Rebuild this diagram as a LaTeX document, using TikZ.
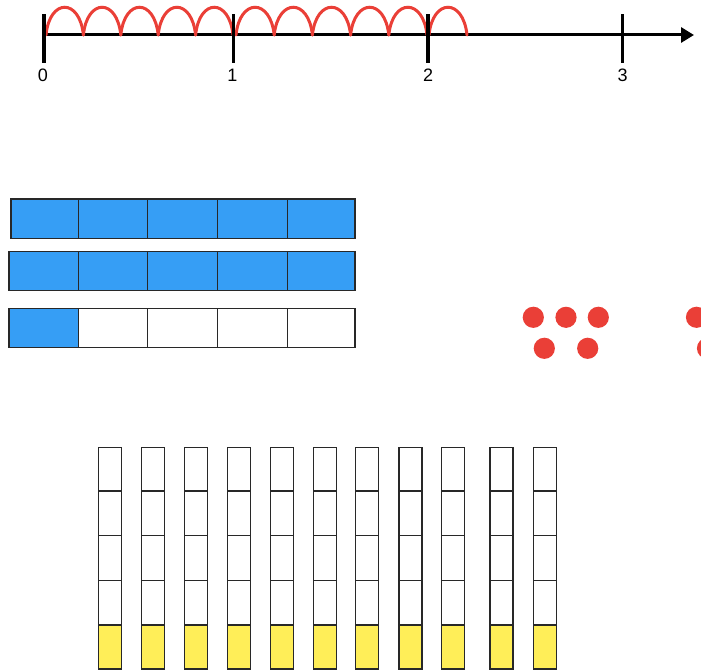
\documentclass[tikz,border=0pt]{standalone}
\usepackage{fontspec}
\setmainfont{Liberation Sans}
\usetikzlibrary{arrows.meta}
\definecolor{jred}{RGB}{234,63,55}
\definecolor{barblue}{RGB}{54,158,245}
\definecolor{cellyellow}{RGB}{255,238,88}
\definecolor{edge}{RGB}{40,40,40}
\tikzset{
  axisline/.style={line width=3pt,black},
  tickline/.style={line width=3.5pt,black},
  jump/.style={line width=3pt,jred,line cap=round},
  numlabel/.style={font=\fontsize{18}{20}\selectfont,anchor=center,inner sep=0pt},
  barcell/.style={draw=edge,line width=1.3pt},
  colcell/.style={draw=edge,line width=1.2pt},
  dot/.style={fill=jred,draw=none}
}
\begin{document}
\begin{tikzpicture}[x=1pt,y=-1pt]
\useasboundingbox (0,0) rectangle (701,671);
\clip (0,0) rectangle (701,671);
% number line
\coordinate (t0) at (44,35);
\coordinate (t1) at (233.5,35);
\coordinate (t2) at (428,35);
\coordinate (t3) at (622.5,35);
\coordinate (tip) at (694,35);
\draw[axisline,-{Triangle[length=13pt,width=15pt]}] (t0) -- (tip);
% jumps
\foreach \a/\b in {46/83.4,83.4/120.8,120.8/158.2,158.2/195.6,195.6/233,
                   236/274.2,274.2/312.4,312.4/350.6,350.6/388.8,388.8/427,
                   429/467}{
  \draw[jump] (\a,35) .. controls ({\a+0.1*(\b-\a)},-2) and ({\b-0.1*(\b-\a)},-2) .. (\b,35);
}
\foreach \t in {t0,t1,t2,t3}{
  \draw[tickline] ([yshift=-28pt]\t) -- ([yshift=21pt]\t);
}
\node[numlabel] (l0) at (43,75) {0};
\node[numlabel] (l1) at (232.5,75) {1};
\node[numlabel] (l2) at (428,75) {2};
\node[numlabel] (l3) at (622.5,75) {3};
% fraction bars
\foreach \y/\h/\x in {199/39.3/11,251.7/39/9,308.3/39/9}{
  \foreach \a/\b in {\x/78.3,78.3/147.3,147.3/217.7,217.7/287.3,287.3/355}{
    \draw[barcell,fill=barblue] (\a,\y) rectangle (\b,{\y+\h});
  }
}
\foreach \a/\b in {78.3/147.3,147.3/217.7,217.7/287.3,287.3/355}{
  \draw[barcell,fill=white] (\a,308.3) rectangle (\b,347.3);
}
% dots
\foreach \dx in {0,163.2}{
  \foreach \cx/\cy in {533.3/317.3,566/317.3,598.3/317.3,544.3/348.3,587.7/348.3}{
    \fill[dot] ({\cx+\dx},\cy) circle (10.6);
  }
}
% columns
\foreach \x in {98.3,141.7,184.7,227.7,270.3,313.3,355.7,399,441.7,490,533.3}{
  \draw[colcell,fill=white] (\x,447.3) rectangle ({\x+23},491);
  \draw[colcell,fill=white] (\x,491) rectangle ({\x+23},535.7);
  \draw[colcell,fill=white] (\x,535.7) rectangle ({\x+23},580.3);
  \draw[colcell,fill=white] (\x,580.3) rectangle ({\x+23},625);
  \draw[colcell,fill=cellyellow] (\x,625) rectangle ({\x+23},669);
}
\end{tikzpicture}
\end{document}
